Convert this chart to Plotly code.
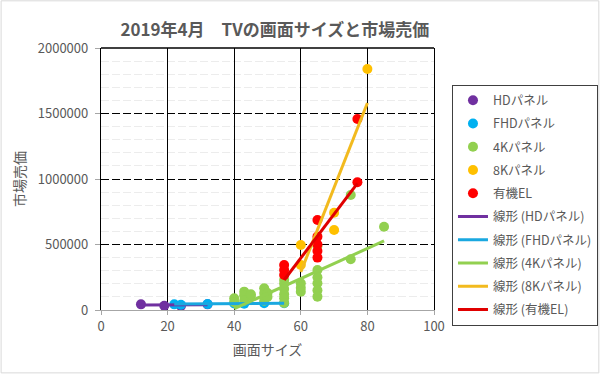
import plotly.graph_objects as go

FONT = "Noto Sans CJK JP"
GREY = "#595959"

title_text = "2019年4月　TVの画面サイズと市場売価"
x_title = "画面サイズ"
y_title = "市場売価"

series_names = ["HDパネル", "FHDパネル", "4Kパネル", "8Kパネル", "有機EL"]
series_colors = ["#7030A0", "#00B0F0", "#92D050", "#FFC000", "#FF0000"]
trend_colors = ["#7030A0", "#1AA8E0", "#92D050", "#F2BA1E", "#E00000"]

hd_x = [12, 19, 24, 32]
hd_y = [43000, 33000, 30000, 43000]

fhd_x = [22, 24, 32, 40, 43, 49, 55]
fhd_y = [43000, 40000, 45000, 50000, 48000, 52000, 51000]

k4_x = [40, 40, 43, 43, 43, 45, 45, 49, 49, 49, 50, 50,
        55, 55, 55, 55, 55, 55, 60, 60, 60,
        65, 65, 65, 65, 65, 65, 75, 75, 85]
k4_y = [89000, 60000, 140000, 110000, 70000, 107000, 120000, 166000, 130000, 70000, 130000, 100000,
        229000, 200000, 160000, 120000, 90000, 53000, 204000, 170000, 140000,
        489000, 305000, 250000, 204000, 150000, 102000, 387000, 878000, 636000]

k8_x = [60, 60, 70, 70, 80]
k8_y = [496000, 343000, 743000, 611000, 1840000]

oled_x = [55, 55, 55, 65, 65, 65, 65, 65, 77, 77]
oled_y = [343000, 305000, 267000, 687000, 560000, 500000, 450000, 400000, 1458000, 975000]

# linear trend lines (endpoints)
hd_trend_x = [12, 32]
hd_trend_y = [38000, 40000]
fhd_trend_x = [22, 55]
fhd_trend_y = [45000, 52000]
k4_trend_x = [40, 85]
k4_trend_y = [10000, 527000]
k8_trend_x = [60, 80]
k8_trend_y = [290000, 1580000]
oled_trend_x = [55, 77]
oled_trend_y = [229000, 967000]

x_ticks = [0, 20, 40, 60, 80, 100]
y_ticks = [0, 500000, 1000000, 1500000, 2000000]

data_x = [hd_x, fhd_x, k4_x, k8_x, oled_x]
data_y = [hd_y, fhd_y, k4_y, k8_y, oled_y]
trend_x = [hd_trend_x, fhd_trend_x, k4_trend_x, k8_trend_x, oled_trend_x]
trend_y = [hd_trend_y, fhd_trend_y, k4_trend_y, k8_trend_y, oled_trend_y]

fig = go.Figure()
for i, (name, c, xs, ys) in enumerate(zip(series_names, series_colors, data_x, data_y)):
    fig.add_trace(go.Scatter(x=xs, y=ys, mode="markers", name=name, legendgroup="m%d" % i,
                             marker=dict(color=c, size=10, line=dict(width=0)),
                             cliponaxis=False))
for i, (name, c, xs, ys) in enumerate(zip(series_names, trend_colors, trend_x, trend_y)):
    fig.add_trace(go.Scatter(x=xs, y=ys, mode="lines", name="線形 (" + name + ")",
                             legendgroup="t%d" % i,
                             line=dict(color=c, width=3)))

fig.update_layout(
    width=600, height=374,
    margin=dict(l=101, r=166, t=48, b=64, autoexpand=False),
    paper_bgcolor="white", plot_bgcolor="white",
    font=dict(family=FONT, color=GREY, size=12),
    title=dict(text="<b>" + title_text + "</b>", x=0.458, xanchor="center",
               y=0.92, yanchor="middle", font=dict(size=17, color=GREY, family=FONT)),
    showlegend=True,
    legend=dict(x=1.054, y=0.86, xanchor="left", yanchor="top",
                bordercolor="#404040", borderwidth=1, bgcolor="white",
                font=dict(size=12.5, color=GREY, family=FONT),
                tracegroupgap=4),
    xaxis=dict(range=[0, 100], tickvals=x_ticks, showgrid=True, gridcolor="black",
               gridwidth=1.3, showline=True, linecolor="#a6a6a6", linewidth=1,
               ticks="outside", ticklen=4, tickcolor="#a6a6a6",
               zeroline=False, tickfont=dict(size=13, color=GREY),
               title=dict(text=x_title, font=dict(size=14, color=GREY), standoff=11)),
    yaxis=dict(range=[0, 2000000], tickvals=y_ticks, tickformat="d",
               showgrid=True, gridcolor="black",
               gridwidth=1.3, griddash="8px,3px",
               showline=True, linecolor="black", linewidth=1.3, mirror=True,
               ticks="outside", ticklen=5, tickcolor="#a6a6a6", ticklabelstandoff=4,
               zeroline=False, tickfont=dict(size=13, color=GREY),
               minor=dict(dtick=100000, showgrid=True, gridcolor="#ececec", gridwidth=1),
               title=dict(text=y_title, font=dict(size=14, color=GREY), standoff=8)),
    shapes=[dict(type="line", xref="paper", yref="paper", x0=0, x1=1, y0=1, y1=1,
                 line=dict(color="black", width=1.3)),
            dict(type="rect", xref="paper", yref="paper", x0=-0.300, x1=1.495,
                 y0=-0.240, y1=1.180, line=dict(color="#d9d9d9", width=1), layer="below")],
)

fig.write_html("out.html", config={"displayModeBar": False},
               post_script="document.body.style.margin='0';")
